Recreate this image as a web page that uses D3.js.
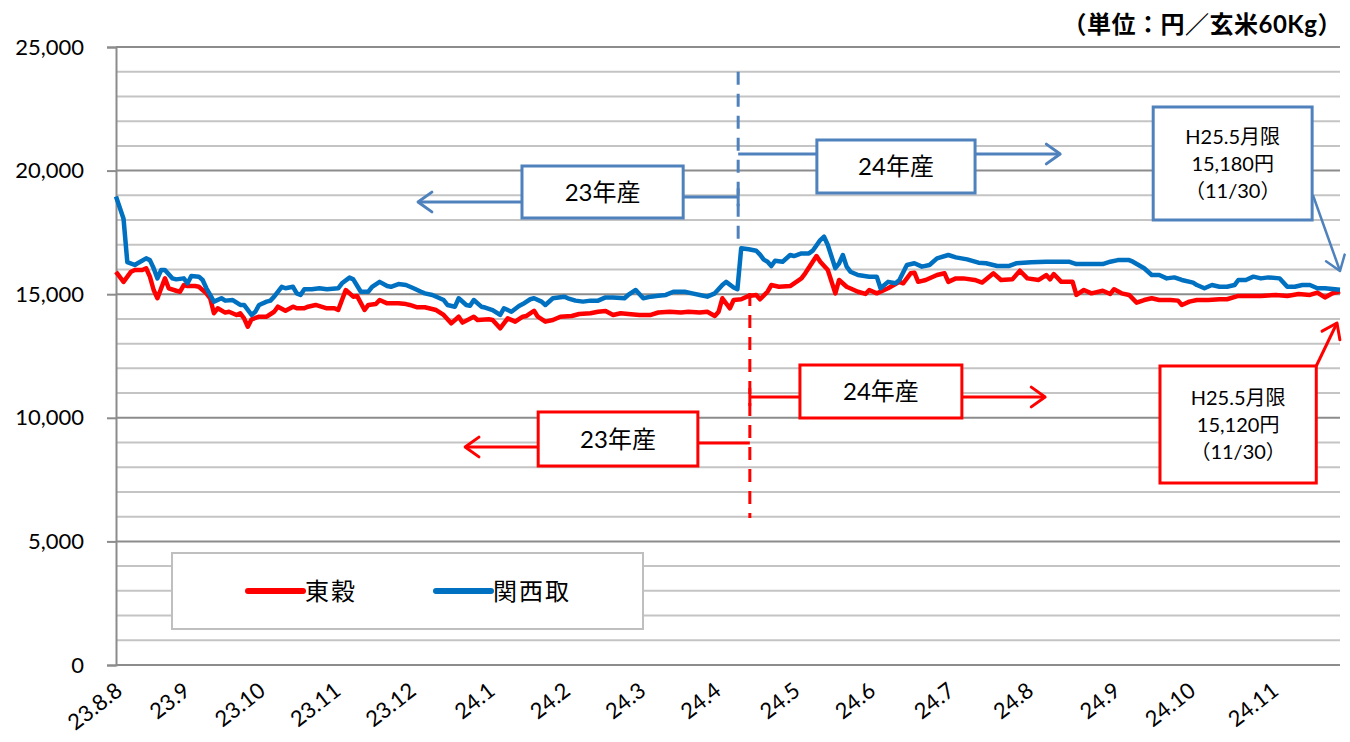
<!DOCTYPE html>
<html><head><meta charset="utf-8">
<script src="https://cdn.jsdelivr.net/npm/d3@7"></script>
<style>
html,body{margin:0;padding:0;background:#fff;}
text{font-family:Lato,"Noto Sans CJK JP",sans-serif;}
</style></head>
<body><svg id="c" width="1350" height="742"></svg>
<script>
// ---- data ----
const monthLabels = ["23.8.8","23.9","23.10","23.11","23.12","24.1","24.2","24.3","24.4","24.5","24.6","24.7","24.8","24.9","24.10","24.11"];
const monthStartDay = [0,18,38,58,78,99,119,139,159,180,200,221,242,265,285,307];
const lastDay = 325;
const yTicks = [0,5000,10000,15000,20000,25000];
const seriesNames = ["東穀","関西取"];
// 東穀 [trading-day index, price]
const tokoku = [[0,15900],[2,15500],[4,15910],[5,15980],[7,15980],[8,16050],[9,15710],[10,15170],[11,14835],[12,15240],[13,15640],[14,15240],[16,15140],[17,15100],[18,15370],[19,15330],[21,15330],[22,15300],[24,15035],[25,14835],[26,14230],[27,14430],[29,14255],[30,14290],[32,14160],[33,14230],[34,14025],[35,13685],[36,13985],[38,14090],[40,14090],[42,14290],[43,14495],[45,14330],[47,14495],[48,14430],[50,14430],[51,14495],[53,14565],[56,14430],[58,14430],[59,14360],[61,15170],[63,14900],[64,14930],[66,14360],[67,14565],[69,14600],[70,14765],[72,14630],[73,14630],[75,14630],[77,14600],[78,14565],[80,14470],[82,14470],[85,14360],[87,14160],[89,13820],[91,14090],[92,13850],[95,14090],[96,13955],[99,13985],[100,13955],[102,13620],[104,14025],[106,13890],[108,14090],[109,14120],[111,14330],[112,14090],[114,13890],[116,13955],[118,14090],[121,14120],[123,14200],[126,14230],[128,14290],[130,14320],[132,14160],[134,14230],[136,14200],[139,14160],[142,14160],[144,14260],[147,14290],[150,14260],[152,14290],[155,14260],[157,14290],[159,14120],[160,14290],[161,14835],[163,14430],[164,14765],[166,14795],[168,14930],[170,14970],[171,14795],[173,15100],[174,15370],[176,15300],[179,15330],[182,15640],[183,15845],[185,16315],[186,16545],[187,16315],[189,15980],[191,15035],[192,15575],[194,15300],[197,15100],[199,15010],[200,15170],[202,15035],[204,15170],[205,15240],[208,15500],[209,15440],[211,15845],[212,15870],[213,15500],[215,15575],[218,15775],[220,15845],[221,15500],[223,15640],[225,15640],[228,15575],[230,15470],[233,15845],[235,15575],[238,15600],[240,15950],[242,15640],[245,15575],[247,15775],[248,15600],[249,15815],[251,15500],[252,15500],[254,15500],[255,14970],[257,15170],[259,15035],[262,15140],[264,15010],[265,15200],[267,15035],[269,14970],[271,14660],[273,14765],[275,14835],[277,14765],[280,14765],[282,14740],[283,14565],[285,14700],[287,14765],[290,14765],[293,14795],[295,14795],[298,14930],[301,14930],[304,14930],[308,14970],[311,14930],[314,15010],[317,14970],[319,15065],[321,14870],[323,15035],[325,15120]];
// 関西取 [trading-day index, price]
const kansai = [[0,18950],[2,18050],[3,16300],[5,16180],[6,16275],[8,16450],[9,16380],[10,16050],[11,15640],[12,15980],[13,15980],[15,15640],[16,15600],[18,15640],[19,15440],[20,15740],[22,15710],[23,15575],[24,15240],[25,14970],[26,14700],[28,14835],[29,14740],[31,14765],[33,14565],[34,14565],[36,14160],[37,14290],[38,14565],[40,14700],[41,14740],[42,14900],[44,15300],[45,15240],[47,15300],[48,15035],[49,14970],[50,15200],[52,15200],[54,15240],[56,15200],[59,15240],[60,15440],[62,15670],[63,15600],[65,15100],[67,15100],[68,15300],[70,15500],[72,15330],[73,15300],[75,15410],[77,15370],[79,15240],[81,15100],[82,15035],[84,14970],[87,14765],[88,14565],[90,14495],[91,14835],[93,14565],[94,14530],[95,14765],[97,14495],[98,14460],[100,14360],[102,14160],[103,14430],[105,14290],[107,14520],[108,14600],[110,14795],[111,14835],[113,14700],[114,14565],[116,14835],[119,14900],[120,14835],[122,14740],[124,14700],[126,14740],[128,14740],[130,14870],[132,14870],[135,14835],[136,14970],[138,15170],[140,14835],[142,14900],[144,14935],[146,14970],[148,15100],[151,15100],[153,15035],[155,14970],[157,14900],[159,15035],[161,15370],[162,15500],[164,15270],[165,15200],[166,16855],[168,16815],[170,16760],[171,16600],[172,16400],[173,16315],[174,16140],[175,16355],[177,16315],[179,16585],[180,16545],[182,16650],[184,16650],[185,16760],[187,17190],[188,17325],[189,16990],[191,16050],[192,16250],[193,16585],[194,16115],[195,15910],[197,15775],[200,15710],[202,15710],[203,15240],[205,15500],[207,15440],[208,15575],[210,16180],[212,16250],[214,16115],[216,16180],[218,16450],[221,16585],[223,16490],[226,16410],[229,16275],[231,16250],[234,16140],[237,16140],[239,16250],[243,16290],[247,16315],[251,16315],[253,16315],[255,16220],[259,16220],[262,16220],[264,16315],[266,16380],[269,16380],[270,16315],[273,16050],[275,15775],[277,15775],[279,15640],[281,15680],[283,15575],[286,15470],[287,15370],[289,15240],[291,15370],[293,15300],[295,15300],[297,15370],[298,15575],[300,15575],[302,15710],[304,15640],[306,15680],[309,15640],[311,15300],[313,15300],[315,15370],[317,15370],[319,15240],[321,15240],[323,15210],[325,15180]];

// ---- chart ----
const svg = d3.select("#c");
const W = 1350, H = 742;
const x = d3.scaleLinear().domain([0, lastDay]).range([116, 1340]);
const y = d3.scaleLinear().domain([0, 25000]).range([665, 47]);
const RED = "#ff0000", BLUE = "#0070c0", ABLUE = "#4f81bd";

svg.append("rect").attr("width",W).attr("height",H).attr("fill","#fff");

// gridlines
const gridVals = d3.range(1000, 25001, 1000);
svg.append("g").selectAll("line").data(gridVals).join("line")
  .attr("x1", x(0)).attr("x2", x(lastDay))
  .attr("y1", d=>y(d)).attr("y2", d=>y(d))
  .attr("stroke", d=> d%5000===0 ? "#8c8c8c" : "#c4c4c4")
  .attr("stroke-width", 2);

// y axis
const yAxis = d3.axisLeft(y).tickValues(yTicks).tickSize(9).tickPadding(23)
  .tickFormat(d3.format(","));
const ga = svg.append("g").attr("transform",`translate(${x(0)},0)`).call(yAxis);
ga.select(".domain").attr("stroke","#8c8c8c").attr("stroke-width",2);
ga.selectAll(".tick line").attr("stroke","#8c8c8c").attr("stroke-width",2);
ga.selectAll(".tick text").attr("font-size",22).attr("fill","#000")
  .attr("font-family",'Lato,"Noto Sans CJK JP",sans-serif');
// bottom axis line
svg.append("line").attr("x1",x(0)).attr("x2",x(lastDay)).attr("y1",y(0)).attr("y2",y(0))
  .attr("stroke","#8c8c8c").attr("stroke-width",2);

// x labels
svg.append("g").selectAll("text").data(monthLabels).join("text")
  .attr("transform",(d,i)=>`translate(${x(monthStartDay[i])-2},${y(0)+16}) rotate(-38)`)
  .attr("text-anchor","end").attr("dy","0.72em")
  .attr("font-size",22).attr("fill","#000").text(d=>d);

// legend
const lg = svg.append("g");
lg.append("rect").attr("x",172).attr("y",553).attr("width",471).attr("height",76)
  .attr("fill","#fff").attr("stroke","#bfbfbf").attr("stroke-width",2);
[[RED,248],[BLUE,436]].forEach(([c,lx],i)=>{
  lg.append("line").attr("x1",lx).attr("x2",lx+55).attr("y1",591).attr("y2",591)
    .attr("stroke",c).attr("stroke-width",6).attr("stroke-linecap","round");
  lg.append("text").attr("x",lx+57).attr("y",591).attr("dy","0.36em")
    .attr("font-size",24).attr("letter-spacing",2).text(seriesNames[i]);
});

// lines
const line = d3.line().x(d=>x(d[0])).y(d=>y(d[1]));
svg.append("path").datum(tokoku).attr("d",line).attr("fill","none")
  .attr("stroke",RED).attr("stroke-width",4.5).attr("stroke-linejoin","round");
svg.append("path").datum(kansai).attr("d",line).attr("fill","none")
  .attr("stroke",BLUE).attr("stroke-width",4.5).attr("stroke-linejoin","round");

// unit title
svg.append("text").attr("x",1342).attr("y",24).attr("dy","0.36em")
  .attr("text-anchor","end").attr("font-size",24).attr("font-weight","bold")
  .attr("letter-spacing",0.5)
  .text("（単位：円／玄米60Kg）");

// ---- annotations ----
const ann = svg.append("g");
function seg(x1,y1,x2,y2,c,w,dash){
  const l = ann.append("line").attr("x1",x1).attr("y1",y1).attr("x2",x2).attr("y2",y2)
    .attr("stroke",c).attr("stroke-width",w);
  if(dash) l.attr("stroke-dasharray",dash);
  return l;
}
function head(x1,y1,x2,y2,c,w){ // open chevron at (x2,y2)
  const a = Math.atan2(y2-y1,x2-x1), L = 17, s = 0.62;
  const p = [[x2-L*Math.cos(a-s), y2-L*Math.sin(a-s)],[x2,y2],[x2-L*Math.cos(a+s), y2-L*Math.sin(a+s)]];
  ann.append("path").attr("d",d3.line()(p)).attr("fill","none").attr("stroke",c)
    .attr("stroke-width",w).attr("stroke-linecap","round").attr("stroke-linejoin","round");
}
function box(x1,y1,x2,y2,c,lines,fs,lh){
  ann.append("rect").attr("x",x1).attr("y",y1).attr("width",x2-x1).attr("height",y2-y1)
    .attr("fill","#fff").attr("stroke",c).attr("stroke-width",3);
  const cy = (y1+y2)/2, n = lines.length;
  lines.forEach((t,i)=>{
    ann.append("text").attr("x",(x1+x2)/2).attr("y",cy+(i-(n-1)/2)*lh).attr("dy","0.36em")
      .attr("text-anchor","middle").attr("font-size",fs).attr("fill","#000").text(t);
  });
}
// blue (関西取) period markers
seg(x(165.2),y(24000),x(165.2),y(16900),ABLUE,3,"13,9");
seg(x(150.6),y(18930),x(165.2),y(18930),ABLUE,3);
seg(x(165.2),y(19280),x(165.2),y(18560),ABLUE,3);
seg(x(107.8),y(18730),x(80.2),y(18730),ABLUE,3); head(x(107.8),y(18730),x(80.2),y(18730),ABLUE,3);
box(x(107.8),y(20186),x(150.6),y(18083),ABLUE,["23年産"],24,0);
seg(x(165.2),y(20671),x(250.7),y(20671),ABLUE,3); head(x(228),y(20671),x(250.7),y(20671),ABLUE,3);
box(x(186.1),y(21238),x(228.1),y(19094),ABLUE,["24年産"],24,0);
// blue note
seg(x(317.8),y(19013),x(325),y(15939),ABLUE,2.5); head(x(317.8),y(19013),x(325),y(15939),ABLUE,2.5);
box(x(275.4),y(22573),x(317.6),y(18002),ABLUE,["H25.5月限","15,180円","（11/30）"],20,27);

// red (東穀) period markers
seg(x(168.3),y(15049),x(168.3),y(5947),RED,3,"13,9");
seg(x(154.5),y(8981),x(168.3),y(8981),RED,3);
seg(x(112.1),y(8819),x(92.7),y(8819),RED,3); head(x(112.1),y(8819),x(92.7),y(8819),RED,3);
box(x(112.1),y(10235),x(154.5),y(8050),RED,["23年産"],24,0);
seg(x(168.3),y(10841),x(246.7),y(10841),RED,3); head(x(224),y(10841),x(246.7),y(10841),RED,3);
seg(x(168.3),y(11200),x(168.3),y(10480),RED,3);
box(x(181.6),y(12136),x(224.6),y(9992),RED,["24年産"],24,0);
// red note
seg(x(318.7),y(12096),x(324.2),y(13835),RED,3); head(x(318.7),y(12096),x(324.2),y(13835),RED,3);
box(x(277.2),y(12096),x(318.7),y(7362),RED,["H25.5月限","15,120円","（11/30）"],20,27);
</script></body></html>
